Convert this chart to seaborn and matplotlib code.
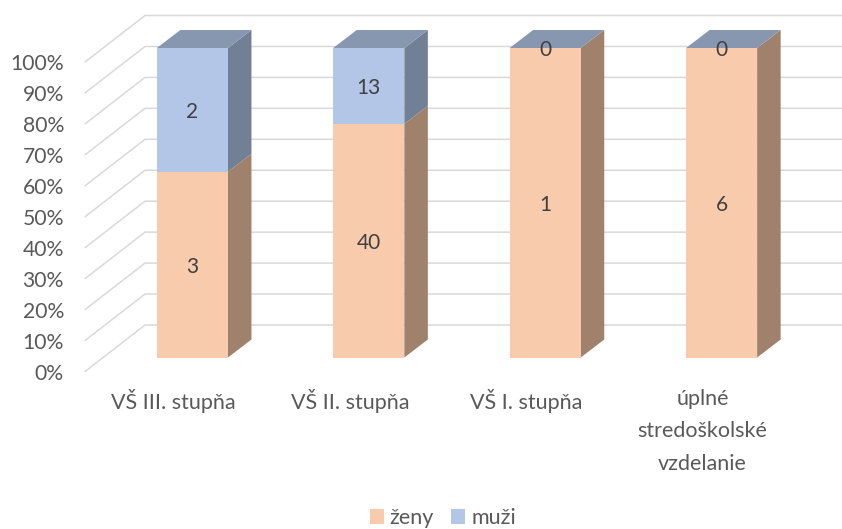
import numpy as np
import pandas as pd
import seaborn as sns
import matplotlib.pyplot as plt
from matplotlib.transforms import ScaledTranslation

# data
categories = ['VŠ III. stupňa', 'VŠ II. stupňa', 'VŠ I. stupňa', 'úplné\nstredoškolské\nvzdelanie']
zeny = [3, 40, 1, 6]
muzi = [2, 13, 0, 0]
ticks = [0, 10, 20, 30, 40, 50, 60, 70, 80, 90, 100]

sns.set_theme(style='white')
plt.rcParams['font.family'] = ['Lato', 'DejaVu Sans']

W, H = 842, 529
PEACH, PEACH_SIDE = '#F7CBAC', '#A0816B'
BLUE, BLUE_SIDE, BLUE_TOP = '#B4C6E7', '#728095', '#8897B0'
GRID = '#D9D9D9'

df = pd.DataFrame({'cat': categories, 'zeny': zeny, 'muzi': muzi})
df['zeny_pct'] = df['zeny'] / (df['zeny'] + df['muzi']) * 100
df['total_pct'] = 100.0

fig = plt.figure(figsize=(W / 100, H / 100), dpi=100)
left, right, top, bottom = 104.2, 842, 48, 357.5
ax = fig.add_axes([left / W, 1 - bottom / H, (right - left) / W, (bottom - top) / H])

sns.barplot(data=df, x='cat', y='total_pct', color=BLUE, saturation=1, width=0.403, linewidth=0, label='muži', ax=ax, zorder=3)
sns.barplot(data=df, x='cat', y='zeny_pct', color=PEACH, saturation=1, width=0.403, linewidth=0, label='ženy', ax=ax, zorder=3)

px_x = 176.4
ax.set_xlim(-0.5, -0.5 + (right - left) / px_x)
ax.set_ylim(0, 100)
px_y = (bottom - top) / 100
half = 0.403 / 2


def dx(px):
    return px / px_x


def dy(px):
    return px / px_y


# back wall and side wall gridlines
for t in ticks:
    y_back = t + dy(32.5)
    y_front = t - dy(14)
    x_back = -0.5 + dx(145 - left)
    x_front = -0.5 + dx(85 - left)
    ax.plot([x_front, x_back, -0.5 + dx(right - left)], [y_front, y_back, y_back],
            color=GRID, lw=1.1, clip_on=False, zorder=1, solid_joinstyle='miter')

# depth of the bars
depth_x, depth_y = dx(23.5), dy(18)
label_shift = dy(2)
for i in range(len(categories)):
    x1 = i + half
    h = df['zeny_pct'][i]
    ax.fill([x1, x1 + depth_x, x1 + depth_x, x1], [0, depth_y, h + depth_y, h],
            color=PEACH_SIDE, lw=0, clip_on=False, zorder=2)
    if h < 100:
        ax.fill([x1, x1 + depth_x, x1 + depth_x, x1], [h, h + depth_y, 100 + depth_y, 100],
                color=BLUE_SIDE, lw=0, clip_on=False, zorder=2)
    ax.fill([i - half, i - half + depth_x, x1 + depth_x, x1], [100, 100 + depth_y, 100 + depth_y, 100],
            color=BLUE_TOP, lw=0, clip_on=False, zorder=2)
    # value labels
    ax.text(i, h / 2 - label_shift, str(zeny[i]), ha='center', va='center', fontsize=15, color='#404040', zorder=5)
    ax.text(i, (h + 100) / 2 - label_shift, str(muzi[i]), ha='center', va='center', fontsize=15, color='#404040', zorder=5, clip_on=False)

# axis labels sit on the front plane, not on the bars
ax.set_xlabel('')
ax.set_ylabel('')
ax.set_yticks(ticks)
ax.set_yticklabels([str(t) + '%' for t in ticks], fontsize=15.2, color='#595959')
ax.tick_params(axis='y', length=0, pad=29)
ax.set_xticks(range(len(categories)))
ax.set_xticklabels(categories, fontsize=15.5, color='#595959', linespacing=1.79)
ax.tick_params(axis='x', length=0, pad=22.5)

off_y = ScaledTranslation(0, -14.5 / 100, fig.dpi_scale_trans)
off_x = ScaledTranslation(-19 / 100, 0, fig.dpi_scale_trans)
for lab in ax.get_yticklabels():
    lab.set_transform(lab.get_transform() + off_y)
for lab in ax.get_xticklabels():
    lab.set_transform(lab.get_transform() + off_x)

sns.despine(ax=ax, left=True, bottom=True)
ax.patch.set_alpha(0)

handles, labels = ax.get_legend_handles_labels()
order = [labels.index('ženy'), labels.index('muži')]
ax.legend([handles[k] for k in order], [labels[k] for k in order], ncol=2, frameon=False,
          loc='center', bbox_to_anchor=(443 / W, 1 - 518 / H), bbox_transform=fig.transFigure,
          fontsize=15.5, labelcolor='#595959', handlelength=0.65, handleheight=0.65,
          handletextpad=0.28, columnspacing=0.8)

fig.savefig('out.png', dpi=100)
